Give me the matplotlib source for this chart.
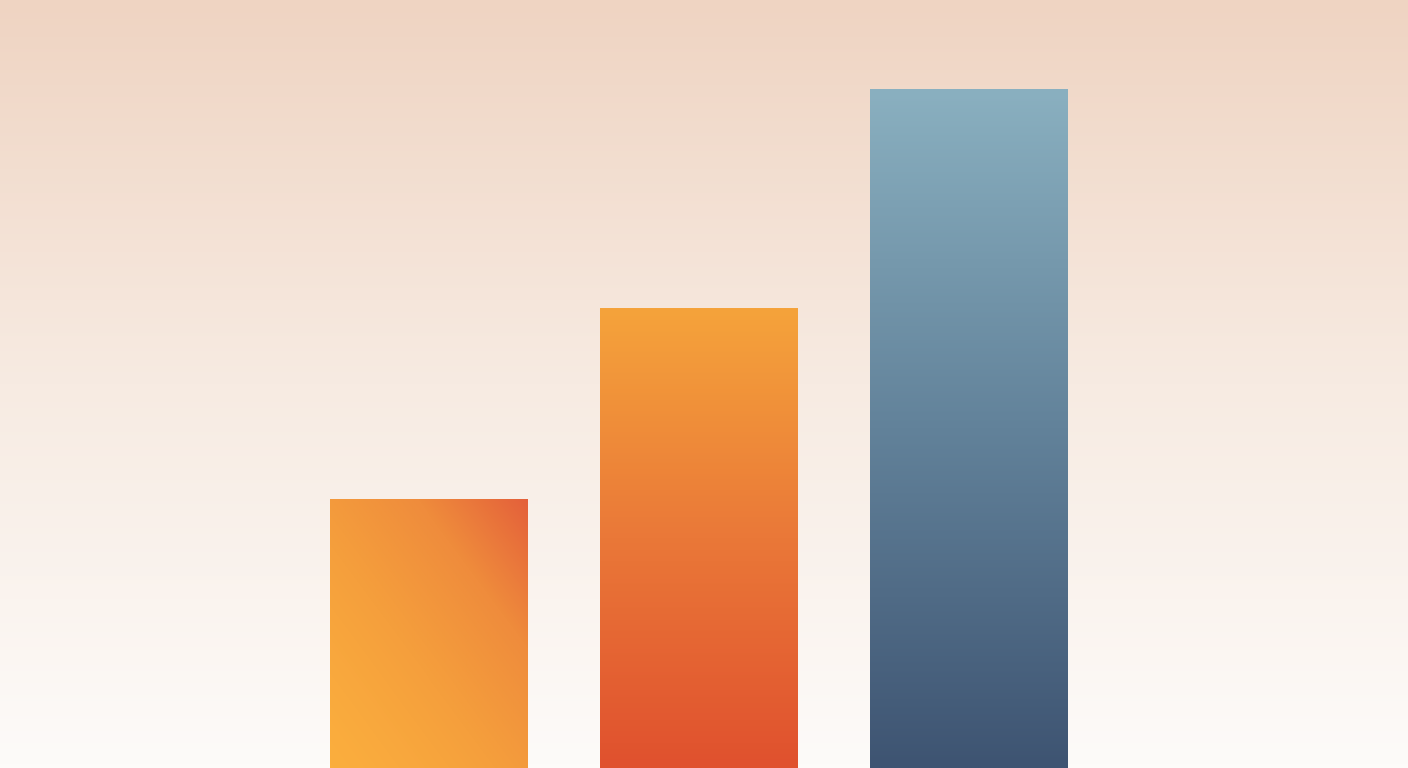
import numpy as np
import matplotlib
matplotlib.use("Agg")
import matplotlib.pyplot as plt
from matplotlib.colors import LinearSegmentedColormap

# ── Data ──────────────────────────────────────────────────────────────────────
categories = ["A", "B", "C"]
values     = [39.6, 67.8, 100.1]

# gradient stops per bar: (list of colours, direction)
bar_colors = [
    (["#FBAE3E", "#F59F3C", "#EF8C3C", "#E4603A"], "diag"),   # bottom-left -> top-right
    (["#E0512E", "#EA7838", "#F5A33B"], "vert"),              # bottom -> top
    (["#3E5472", "#62829A", "#8AB0C0"], "vert"),
]
bg_bottom, bg_top = "#FDFBF9", "#EFD4C2"

# ── Figure ────────────────────────────────────────────────────────────────────
fig = plt.figure(figsize=(14.08, 7.68), dpi=100)
ax = fig.add_axes([0, 0, 1, 1])

x = np.arange(len(categories))
width = 0.73
xlim = (-1.587, 3.628)
ylim = (0, 113.2)

# background gradient
bg_cmap = LinearSegmentedColormap.from_list("bg", [bg_bottom, "#F7EBE2", bg_top])
grad = np.linspace(0, 1, 256).reshape(-1, 1)
ax.imshow(grad, cmap=bg_cmap, origin="lower", aspect="auto",
          extent=(*xlim, *ylim), zorder=0)

bars = ax.bar(x, values, width=width, color="none", edgecolor="none", zorder=2)

for bar, (stops, mode) in zip(bars, bar_colors):
    cmap = LinearSegmentedColormap.from_list("b", stops)
    xx, yy = np.meshgrid(np.linspace(0, 1, 200), np.linspace(0, 1, 200))
    if mode == "diag":
        z = (xx * 0.5 + yy * 0.5) ** 1.25
    else:
        z = yy
    bx, by = bar.get_x(), bar.get_y()
    bw, bh = bar.get_width(), bar.get_height()
    im = ax.imshow(z, cmap=cmap, origin="lower", aspect="auto",
                   extent=(bx, bx + bw, by, by + bh), zorder=3)
    im.set_clip_path(bar)

ax.set_xlim(*xlim)
ax.set_ylim(*ylim)
ax.axis("off")

fig.savefig("out.png", dpi=100)
